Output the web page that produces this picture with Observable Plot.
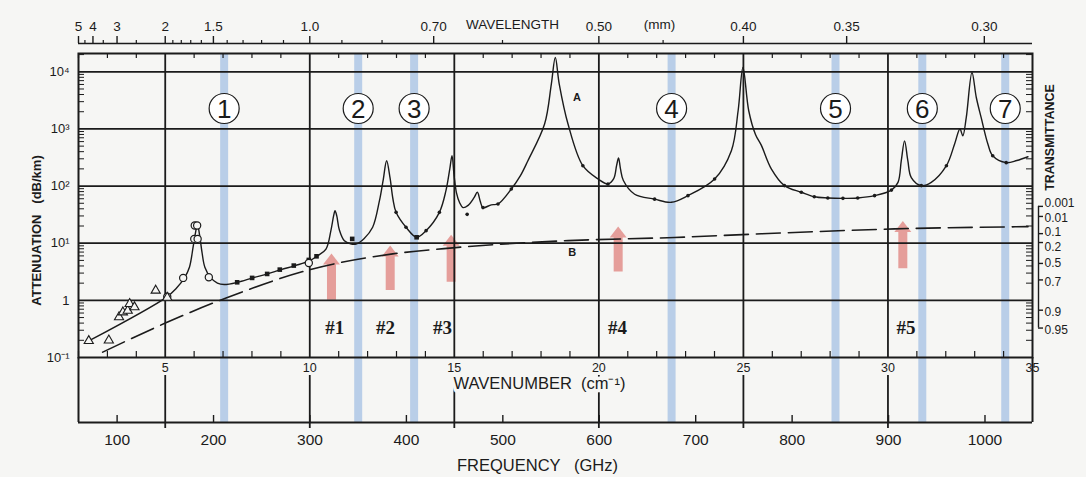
<!DOCTYPE html>
<html><head><meta charset="utf-8">
<script src="https://cdn.jsdelivr.net/npm/d3@7"></script>
<script src="https://cdn.jsdelivr.net/npm/@observablehq/plot@0.6"></script>
<style>
body{margin:0;background:#fff;}
#chart svg{display:block;}
</style></head><body><div id="chart"></div>
<script>
// ---------- data ----------
const C = 29.9792458;          // GHz per cm^-1
const LPATH = 0.68;            // km, path used by the transmittance scale

// curve A: [frequency GHz, attenuation dB/km]
const curveA = [
  [70.6,0.195],[151,1.13],[161,1.6],[170,2.5],[175,3.8],[179,9],[181.5,16],[183.3,21.7],
  [185.5,14],[188,7],[191,3.8],[197,2.5],[204,2.0],[211,1.89],[225,2.07],[240.6,2.47],
  [256,2.9],[270,3.45],[284.8,4.06],[299.4,4.9],[308,6.07],[316.6,7.9],[321.8,17],
  [324.5,30],[326,37],[327.8,30],[330.5,17],[335.7,11],[342,9.8],[347.8,9.7],[356,12],
  [365,19],[372,55],[376,130],[379.5,278],[383,140],[386,60],[389.3,34.7],[399.6,19],
  [410.6,12.7],[420.4,16.6],[434.2,34.7],[441,83],[445,200],[447.3,339],[449.5,150],
  [452,75],[455,52],[458.7,42],[464,46],[470,62],[473.6,78],[476.5,55],[479.4,42],
  [488,47],[495,48.6],[508.8,89],[518.4,154],[526,278],[543.3,1220],[550.3,6100],
  [554.4,17800],[558.5,6100],[567.6,1220],[583,227],[598.7,133],[609,109],[615,135],
  [618,230],[620,310],[622,200],[625,125],[636.7,72],[657.4,59],[674.7,52],[692,68],
  [719.6,133],[737,417],[744,2080],[749,11900],[755,2080],[762,800],[768,520],
  [778.4,200],[792,102],[809.5,78],[823,65],[837,62],[852.7,61],[868,62],[885.5,68],
  [903,85],[909.8,116],[913.2,278],[916.6,617],[920,278],[923.6,141],[934,102],
  [944.3,116],[960,227],[968.5,545],[974,1000],[977,760],[980.6,1590],[986.5,9700],
  [991,3550],[996,1590],[1003,545],[1008,339],[1022,257],[1033,280],[1044.6,326]
];
// curve B (dashed)
const curveB = [
  [85,0.124],[150,0.4],[213,1.1],[302.8,3.55],[385.8,6.5],[448,8.3],[567.6,11.1],
  [678,12.6],[768,14.6],[906,17.8],[1044.6,19.5]
];
// measured points
const dotPoints = [
  [389.3,34.7],[399.6,19],[420.4,16.6],[434.2,34.7],[463,32],[479.4,42],[495,48.6],
  [508.8,89],[583,227],[609,109],[657.4,59],[692,68],[719.6,133],[792,102],[809.5,78],
  [823,65],[837,62],[852.7,61],[868,62],[885.5,68],[903,85],[934,102],[960,227],
  [1008,339],[1022,257]
];
const squarePoints = [
  [224.5,2.07],[240,2.47],[255.6,2.9],[268.7,3.45],[283.2,4.06],[298.8,5.1],[306.8,5.9],
  [343.8,11.9],[410.6,12.7]
];
const circlePoints = [
  [152,1.16],[168.5,2.47],[180.5,20.4],[183,20.4],[180,11.9],[183.5,11.9],[195.1,2.53],[298.8,4.5]
];
const trianglePoints = [
  [70.6,0.195],[91.4,0.2],[102,0.51],[106,0.62],[111,0.66],[113,0.87],[118,0.76],[140,1.49],[152,1.12]
];

// axes
const wavelengthMajor = [5,4,3,2,1.5,1.0,0.70,0.50,0.40,0.35,0.30];
const wavelengthLabels = ["5","4","3","2","1.5","1.0","0.70","0.50","0.40","0.35","0.30"];
const wavelengthMinor = [4.5,3.5,2.5,1.9,1.8,1.7,1.6,1.4,1.3,1.2,1.1,0.9,0.8,0.6,0.45];
const wavenumberMajor = [5,10,15,20,25,30,35];
const wavenumberLabels = ["5","10","15","20","25","30","35"];
const wavenumberGrid = [5,10,15,20,25,30];
const wavenumberMinor = d3.range(2,35).filter(k => k % 5 !== 0);
const freqTicks = [100,200,300,400,500,600,700,800,900,1000];
const freqLabels = ["100","200","300","400","500","600","700","800","900","1000"];
const decades = [0.1,1,10,100,1000,10000];
const decadeLabels = ["10⁻¹","1","10¹","10²","10³","10⁴"];
const transTicks = [0.001,0.01,0.1,0.2,0.5,0.7,0.9,0.95];
const transLabels = ["0.001","0.01","0.1","0.2","0.5","0.7","0.9","0.95"];

// annotations
const bandFreq = [211,350,408,675,845,935,1021];
const bandLabels = ["1","2","3","4","5","6","7"];
const arrowFreq = [322.3,383.2,446.4,619.6,914.8];
const arrowBase = [1.0,1.49,2.08,3.12,3.57];
const arrowTip = [6.6,9.1,14.1,19.7,24.4];
const arrowLabels = ["#1","#2","#3","#4","#5"];
const arrowLabelFreq = [325.7,378.3,437.4,619,918];

// ---------- build ----------
const ink = "#1b1b1b";
const bandColor = "#b9cee8";
const pink = "#e59e9a";
const paper = "#f6f6f4";
const xMin = 299.792458/5, xMax = 35*C, yMax = 10**4.32;
const minorLog = [];
for (let e = -1; e <= 4; e++) for (let m = 2; m <= 9; m++) { const v = m*10**e; if (v < yMax) minorLog.push(v); }
const tAtt = t => -10*Math.log10(t)/LPATH;
const transNudge = [-3, 2, -1, 5, 0, 2, 2, 2];   // label offsets so stacked labels stay legible
const arrows = arrowFreq.map((f,i) => ({f, base: arrowBase[i], tip: arrowTip[i], label: arrowLabels[i], lf: arrowLabelFreq[i]}));
const bands = bandFreq.map((f,i) => ({f, label: bandLabels[i]}));
const headSymbol = {draw(ctx){ ctx.moveTo(0,-11); ctx.lineTo(8.5,0); ctx.lineTo(-8.5,0); ctx.closePath(); }};
const font = "Liberation Sans, Arial, sans-serif";
const mid = {lineAnchor: "middle"};

const chart = Plot.plot({
  width: 1086, height: 477,
  marginLeft: 78, marginRight: 54, marginTop: 53, marginBottom: 120,
  style: {background: paper, fontFamily: font, color: ink, overflow: "visible"},
  x: {domain: [xMin, xMax], axis: null},
  y: {type: "log", domain: [0.1, yMax], axis: null},
  marks: [
    // blue bands
    Plot.ruleX(bands, {x: "f", stroke: bandColor, strokeWidth: 8, insetBottom: -65}),
    // pink arrows
    Plot.ruleX(arrows, {x: "f", y1: "tip", y2: "base", stroke: pink, strokeWidth: 9, strokeDasharray: "0,9,1000,0"}),
    Plot.dot(arrows, {x: "f", y: "tip", symbol: headSymbol, r: 5, fill: pink, stroke: "none", dy: 11}),
    // grid
    Plot.ruleY(decades.slice(1), {stroke: ink, strokeWidth: 1.8}),
    Plot.ruleX(wavenumberGrid, {x: k => k*C, stroke: ink, strokeWidth: 1.8}),
    Plot.frame({stroke: ink, strokeWidth: 2}),
    // log minor ticks left and right
    Plot.ruleY(minorLog, {stroke: ink, strokeWidth: 1, insetRight: 948}),
    Plot.ruleY(minorLog, {stroke: ink, strokeWidth: 1, insetLeft: 948}),
    Plot.text(decades, {y: d => d, text: (d,i) => decadeLabels[i], frameAnchor: "left", dx: -9, textAnchor: "end", ...mid, fontSize: 13, fill: ink}),
    // wavenumber minor ticks on top and bottom frame
    Plot.ruleX(wavenumberMinor, {x: k => k*C, stroke: ink, strokeWidth: 1.2, insetBottom: 299}),
    Plot.ruleX(wavenumberMinor, {x: k => k*C, stroke: ink, strokeWidth: 1.2, insetTop: 298}),
    // top wavelength axis
    Plot.ruleY([yMax], {stroke: ink, strokeWidth: 1.6, dy: -10}),
    Plot.ruleX(wavelengthMajor, {x: l => 299.792458/l, stroke: ink, strokeWidth: 1.4, insetTop: -17, insetBottom: 314}),
    Plot.ruleX(wavelengthMinor, {x: l => 299.792458/l, stroke: ink, strokeWidth: 1.2, insetTop: -13, insetBottom: 314}),
    Plot.text(wavelengthMajor, {x: l => 299.792458/l, text: (d,i) => wavelengthLabels[i], frameAnchor: "top", ...mid, dy: -27, fontSize: 13.5, fill: ink}),
    Plot.text(["WAVELENGTH"], {frameAnchor: "top", ...mid, dx: -43, dy: -29, fontSize: 13.5, fill: ink}),
    Plot.text(["(mm)"], {frameAnchor: "top", ...mid, dx: 104, dy: -29, fontSize: 13.5, fill: ink}),
    // lower scales
    Plot.ruleX(wavenumberGrid, {x: k => k*C, stroke: ink, strokeWidth: 1.8, insetTop: 322, insetBottom: -71}),
    Plot.ruleX([xMin, xMax], {stroke: ink, strokeWidth: 2, insetTop: 304, insetBottom: -65}),
    Plot.ruleY([0.1], {stroke: ink, strokeWidth: 2, dy: 65}),
    Plot.ruleX(freqTicks, {stroke: ink, strokeWidth: 1.4, insetTop: 362, insetBottom: -65}),
    Plot.text(wavenumberMajor, {x: k => k*C, text: (d,i) => wavenumberLabels[i], frameAnchor: "bottom", ...mid, dy: 10, fontSize: 12.5, fill: ink}),
    Plot.text(["WAVENUMBER  (cm⁻¹)"], {frameAnchor: "bottom", ...mid, dx: -16, dy: 26, fontSize: 16.5, fill: ink, stroke: paper, strokeWidth: 7}),
    Plot.text(freqTicks, {x: d => d, text: (d,i) => freqLabels[i], frameAnchor: "bottom", ...mid, dy: 83, fontSize: 15.5, fill: ink}),
    Plot.text(["FREQUENCY   (GHz)"], {frameAnchor: "bottom", ...mid, dx: -18, dy: 108, fontSize: 16.5, fill: ink}),
    // transmittance scale
    Plot.ruleX([xMax], {y1: tAtt(0.001), y2: tAtt(0.95), dx: 6, stroke: ink, strokeWidth: 1.4}),
    Plot.ruleY(transTicks, {y: tAtt, stroke: ink, strokeWidth: 1.4, insetLeft: 960, insetRight: -11}),
    ...transTicks.map((t,i) => Plot.text([t], {y: tAtt, text: () => transLabels[i], frameAnchor: "right", dx: 12, dy: transNudge[i], textAnchor: "start", ...mid, fontSize: 12, fill: ink})),
    Plot.text(["TRANSMITTANCE"], {frameAnchor: "right", textAnchor: "middle", ...mid, dx: 17, dy: -68, rotate: -90, fontSize: 12.5, fontWeight: "bold", fill: ink}),
    Plot.text(["ATTENUATION   (dB/km)"], {frameAnchor: "left", textAnchor: "middle", ...mid, dx: -42, dy: 25, rotate: -90, fontSize: 13, fontWeight: "bold", fill: ink}),
    // curves
    Plot.line(curveB, {x: d => d[0], y: d => d[1], stroke: ink, strokeWidth: 1.6, strokeDasharray: "24,8", curve: "monotone-x"}),
    Plot.line(curveA, {x: d => d[0], y: d => d[1], stroke: ink, strokeWidth: 1.4, curve: "catmull-rom"}),
    // measured points
    Plot.dot(dotPoints, {x: d => d[0], y: d => d[1], r: 1.8, fill: ink}),
    Plot.dot(squarePoints, {x: d => d[0], y: d => d[1], symbol: "square", r: 2.6, fill: ink}),
    Plot.dot(circlePoints, {x: d => d[0], y: d => d[1], r: 3.6, fill: paper, stroke: ink, strokeWidth: 1.2}),
    Plot.dot(trianglePoints, {x: d => d[0], y: d => d[1], symbol: "triangle", r: 3.4, fill: paper, stroke: ink, strokeWidth: 1.1}),
    Plot.text(["A"], {x: 577, y: 3620, fontSize: 11, fontWeight: "bold", fill: ink}),
    Plot.text(["B"], {x: 572, y: 7, fontSize: 11, fontWeight: "bold", fill: ink}),
    // circled band numbers
    Plot.dot(bands, {x: "f", frameAnchor: "top", dy: 55, r: 15, fill: "white", stroke: ink, strokeWidth: 1.2}),
    Plot.text(bands, {x: "f", text: "label", frameAnchor: "top", ...mid, dy: 56, fontSize: 26, fill: ink}),
    // line labels
    Plot.text(arrows, {x: "lf", text: "label", frameAnchor: "bottom", ...mid, dy: -30, fontSize: 19, fontWeight: "bold", fontFamily: "Liberation Serif, serif", fill: ink})
  ]
});
document.getElementById("chart").appendChild(chart);
</script>
</body></html>
